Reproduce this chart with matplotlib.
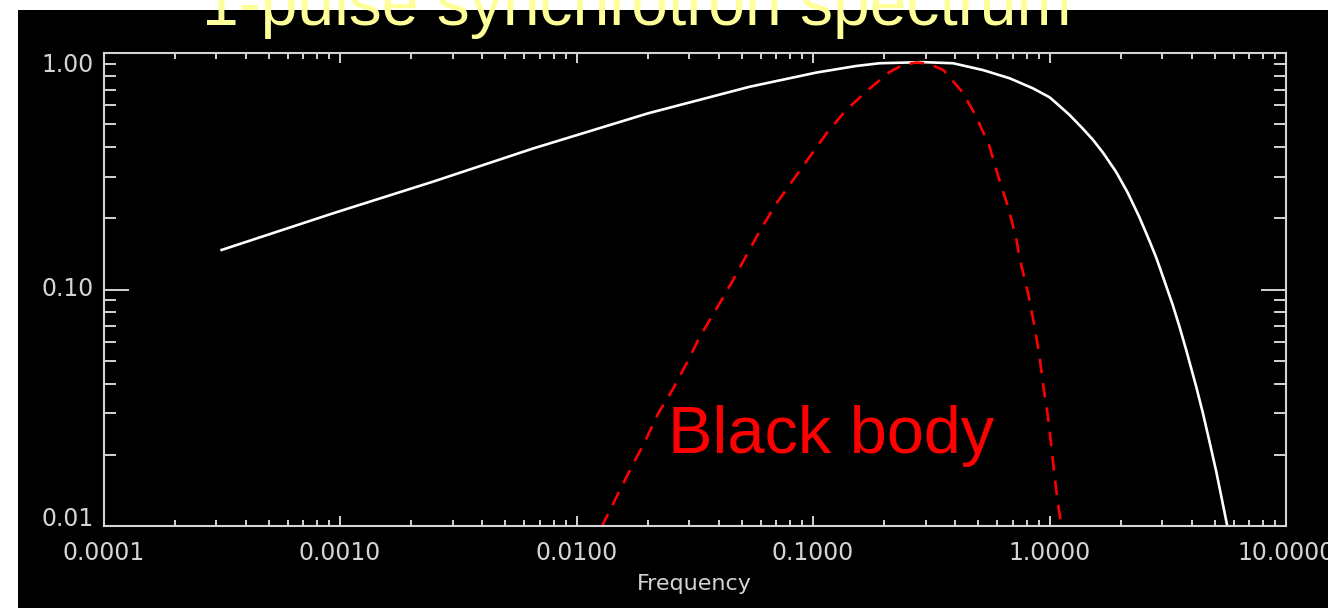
import matplotlib.pyplot as plt
from matplotlib.patches import Rectangle
from matplotlib.ticker import LogLocator, NullFormatter

# synchrotron spectrum of a single pulse
sync_freq = [3.16e-4, 9.35e-4, 2.48e-3, 6.57e-3, 0.0201, 0.054, 0.103, 0.152, 0.191, 0.29,
             0.391, 0.523, 0.678, 0.851, 1.0, 1.07, 1.216, 1.38, 1.525, 1.68, 1.91, 2.14,
             2.40, 2.65, 2.83, 3.02, 3.32, 3.55, 3.79, 4.17, 4.45, 4.75, 5.07, 5.33, 5.68]
sync_flux = [0.147, 0.210, 0.286, 0.395, 0.556, 0.72, 0.826, 0.881, 0.905, 0.915,
             0.905, 0.847, 0.782, 0.709, 0.650, 0.613, 0.547, 0.480, 0.430, 0.380, 0.315, 0.257,
             0.202, 0.160, 0.136, 0.113, 0.0860, 0.0693, 0.0552, 0.0389, 0.0301, 0.0227, 0.0170,
             0.0133, 0.0097]

# black body curve with the same peak
bb_freq = [0.01276, 0.0150, 0.0171, 0.0194, 0.0221, 0.0256, 0.0292, 0.0332, 0.0391, 0.046,
           0.054, 0.0596, 0.070, 0.0823, 0.0968, 0.114, 0.138, 0.174, 0.212, 0.240, 0.274,
           0.310, 0.356, 0.430, 0.490, 0.558, 0.606, 0.667, 0.724, 0.745, 0.816, 0.865,
           0.908, 0.938, 0.985, 1.018, 1.05, 1.085, 1.125]
bb_flux = [0.0099, 0.0137, 0.0178, 0.0226, 0.0298, 0.0380, 0.0487, 0.0631, 0.0830, 0.110,
           0.148, 0.177, 0.231, 0.290, 0.364, 0.457, 0.574, 0.709, 0.834, 0.890, 0.912,
           0.900, 0.847, 0.680, 0.538, 0.402, 0.302, 0.225, 0.164, 0.138, 0.0940, 0.0696,
           0.052, 0.0400, 0.029, 0.0218, 0.0163, 0.0125, 0.0099]

x_ticks = [1e-4, 1e-3, 1e-2, 1e-1, 1e0, 1e1]
x_tick_labels = ['0.0001', '0.0010', '0.0100', '0.1000', '1.0000', '10.0000']
y_ticks = [0.01, 0.1, 1.0]
y_tick_labels = ['0.01', '0.10', '1.00']

W, H = 1328, 608
fig = plt.figure(figsize=(W / 100, H / 100), dpi=100, facecolor='white')
fig.patches.append(Rectangle((18 / W, 0), 1, 1 - 10 / H, transform=fig.transFigure,
                             facecolor='black', edgecolor='none', zorder=-1))

ax = fig.add_axes([103.5 / W, 1 - 526 / H, (1286 - 103.5) / W, (526 - 53) / H])
ax.set_facecolor('black')
ax.set_xscale('log')
ax.set_yscale('log')
ax.set_xlim(1e-4, 1e1)
ax.set_ylim(0.01, 1.0)

fg = '#d4d4d4'
for s in ax.spines.values():
    s.set_color(fg)
    s.set_linewidth(1.5)

ax.plot(sync_freq, sync_flux, color='white', lw=1.9, solid_joinstyle='round')
ax.plot(bb_freq, bb_flux, color='#ff0000', lw=1.9, dashes=(5.5, 3.8))

ax.set_xticks(x_ticks)
ax.set_xticklabels(x_tick_labels)
ax.set_yticks(y_ticks)
ax.set_yticklabels(y_tick_labels)
ax.xaxis.set_minor_locator(LogLocator(base=10, subs=range(2, 10)))
ax.yaxis.set_minor_locator(LogLocator(base=10, subs=range(2, 10)))
ax.xaxis.set_minor_formatter(NullFormatter())
ax.yaxis.set_minor_formatter(NullFormatter())

ax.tick_params(axis='x', which='both', direction='in', top=True, bottom=True,
               color=fg, width=1.4, labelcolor=fg, labelsize=17, pad=11)
ax.tick_params(axis='x', which='major', length=7.5)
ax.tick_params(axis='x', which='minor', length=4.2)
ax.tick_params(axis='y', which='both', direction='in', left=True, right=True,
               color=fg, width=1.4, labelcolor=fg, labelsize=17, pad=7)
ax.tick_params(axis='y', which='major', length=18)
ax.tick_params(axis='y', which='minor', length=8.4)

ylabels = ax.get_yticklabels()
ylabels[0].set_verticalalignment('baseline')
ylabels[1].set_verticalalignment('center')
ylabels[2].set_verticalalignment('top')

ax.set_xlabel('Frequency', color=fg, fontsize=16, labelpad=6)

ax.text(0.0243, 0.0204, 'Black body', color='#ff0000', fontsize=48,
        family='Liberation Sans', ha='left', va='baseline')

fig.text(637 / W, 1 - 25 / H, '1-pulse synchrotron spectrum', color='#ffff99',
         fontsize=47.5, family='Liberation Sans', ha='center', va='baseline')

fig.savefig('out.png', dpi=100, facecolor=fig.get_facecolor())
